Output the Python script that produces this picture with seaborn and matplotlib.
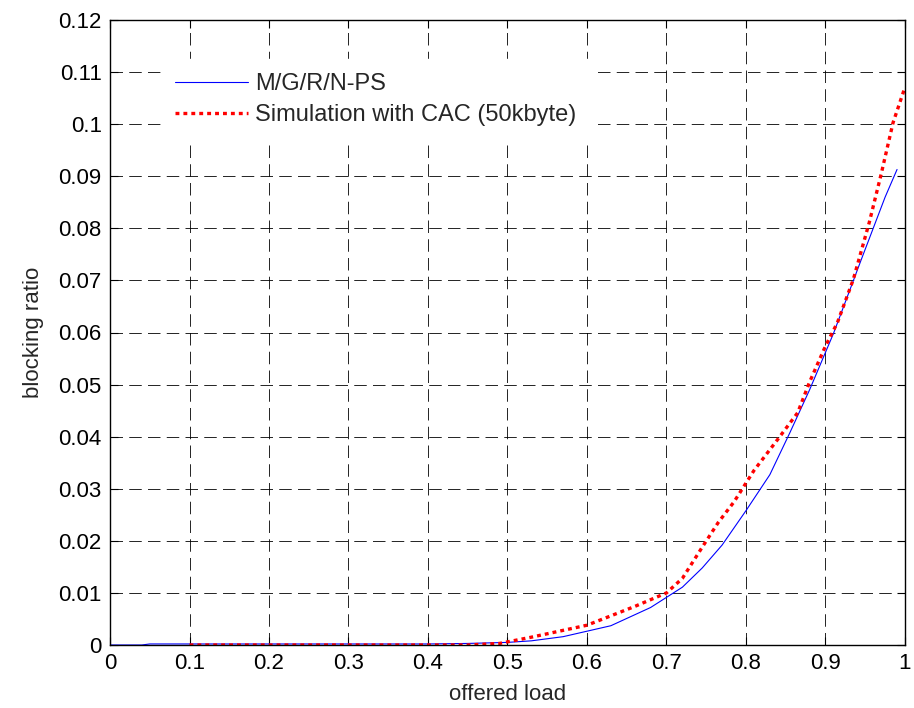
import matplotlib
matplotlib.use("Agg")
import matplotlib.pyplot as plt
import seaborn as sns
import pandas as pd

# ---- data ----
model_x = [0, 0.04, 0.05, 0.1, 0.2, 0.3, 0.4, 0.45, 0.5, 0.53, 0.57, 0.63, 0.68,
           0.72, 0.745, 0.77, 0.80, 0.83, 0.855, 0.88, 0.91, 0.945, 0.975, 0.99]
model_y = [0, 0, 0.0002, 0.0002, 0.0002, 0.0002, 0.0002, 0.0003, 0.0005, 0.0008,
           0.0016, 0.0037, 0.0072, 0.0111, 0.0148, 0.0192, 0.0258, 0.0327, 0.0407,
           0.0490, 0.0598, 0.0740, 0.0860, 0.0913]

sim_x = [0.1, 0.2, 0.3, 0.4, 0.45, 0.49, 0.53, 0.6, 0.66, 0.70, 0.72, 0.745, 0.765,
         0.785, 0.81, 0.84, 0.865, 0.88, 0.90, 0.915, 0.935, 0.955, 0.97, 0.985, 1.0]
sim_y = [0, 0, 0, 0, 0, 0.0003, 0.0015, 0.0038, 0.0074, 0.0100, 0.0128, 0.0188,
         0.0235, 0.0275, 0.0335, 0.0395, 0.0446, 0.0505, 0.0574, 0.0619, 0.0702,
         0.0811, 0.0904, 0.1003, 0.1071]

series_labels = ["M/G/R/N-PS", "Simulation with CAC (50kbyte)"]
x_ticks = [0, 0.1, 0.2, 0.3, 0.4, 0.5, 0.6, 0.7, 0.8, 0.9, 1.0]
x_tick_labels = ["0", "0.1", "0.2", "0.3", "0.4", "0.5", "0.6", "0.7", "0.8", "0.9", "1"]
y_ticks = [0, 0.01, 0.02, 0.03, 0.04, 0.05, 0.06, 0.07, 0.08, 0.09, 0.10, 0.11, 0.12]
y_tick_labels = ["0", "0.01", "0.02", "0.03", "0.04", "0.05", "0.06", "0.07",
                 "0.08", "0.09", "0.1", "0.11", "0.12"]
x_label = "offered load"
y_label = "blocking ratio"

# ---- style ----
sns.set_style("white")
plt.rcParams["font.family"] = ["Liberation Sans", "DejaVu Sans"]
plt.rcParams["lines.scale_dashes"] = False

fig = plt.figure(figsize=(9.14, 7.08), dpi=100)
ax = fig.add_axes([110 / 914, 63 / 708, 795 / 914, 625 / 708])

df_model = pd.DataFrame({"x": model_x, "y": model_y})
df_sim = pd.DataFrame({"x": sim_x, "y": sim_y})

sns.lineplot(data=df_model, x="x", y="y", ax=ax, color="#0000ff", linewidth=0.8,
             label=series_labels[0], sort=False, estimator=None)
sns.lineplot(data=df_sim, x="x", y="y", ax=ax, color="#ff0000", linewidth=2.4,
             label=series_labels[1], sort=False, estimator=None)
ax.lines[1].set_linestyle((0, (2.8, 2.9)))
ax.lines[1].set_dash_capstyle("butt")

ax.set_xlim(0, 1)
ax.set_ylim(0, 0.12)
ax.set_xticks(x_ticks)
ax.set_xticklabels(x_tick_labels)
ax.set_yticks(y_ticks)
ax.set_yticklabels(y_tick_labels)
ax.tick_params(direction="in", length=6, width=0.8, colors="black", labelsize=16,
               top=True, right=True, bottom=True, left=True, pad=6)
ax.grid(True, color="black", linestyle=(0, (9, 4.5)), linewidth=0.6)
for s in ax.spines.values():
    s.set_visible(True)
    s.set_color("black")
    s.set_linewidth(1.0)

ax.set_xlabel(x_label, fontsize=16, labelpad=7)
ax.set_ylabel(y_label, fontsize=16, labelpad=10)

leg = ax.legend(loc="upper left", bbox_to_anchor=(0.049, 0.957), frameon=True,
                fancybox=False, edgecolor="white", facecolor="white", framealpha=1,
                fontsize=17, handlelength=3.1, handletextpad=0.3, labelspacing=0.4,
                borderpad=0.6)
leg.get_lines()[1].set_linestyle((0, (2.8, 2.9)))

fig.savefig("out.png", dpi=100)
